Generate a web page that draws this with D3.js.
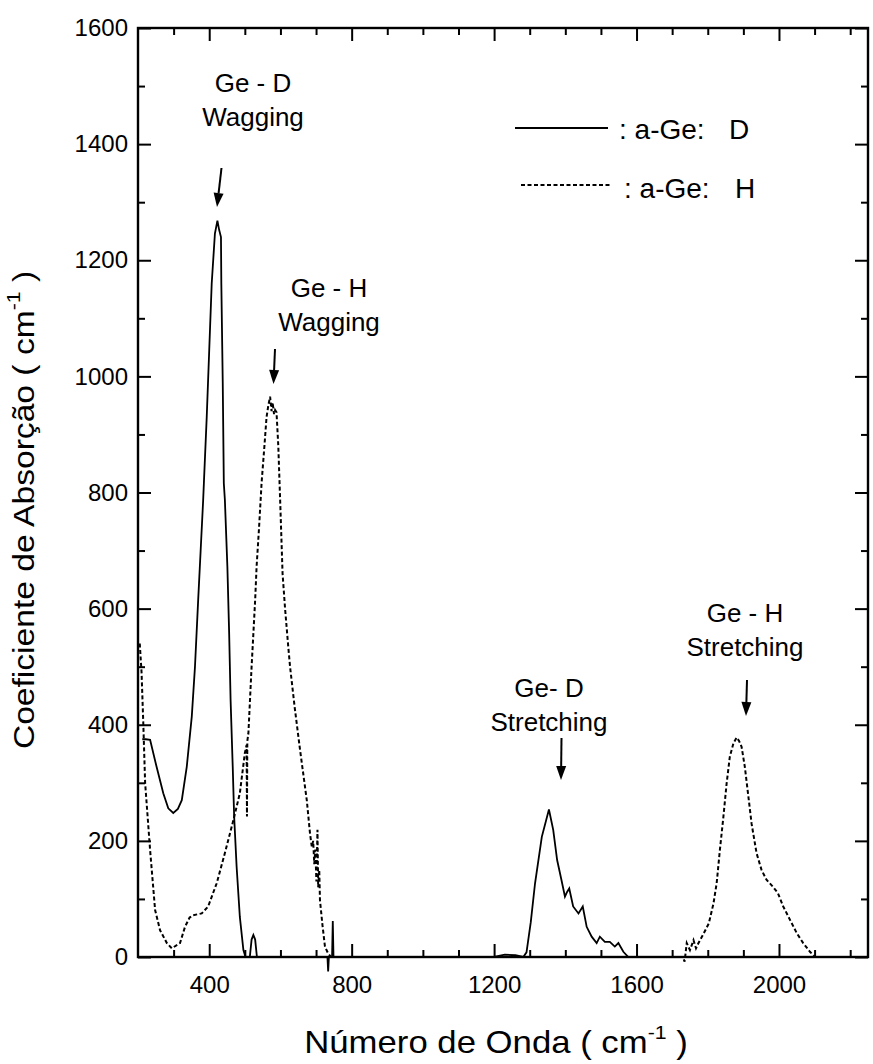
<!DOCTYPE html>
<html>
<head>
<meta charset="utf-8">
<script src="https://cdn.jsdelivr.net/npm/d3@7/dist/d3.min.js"></script>
<style>
  html, body { margin: 0; padding: 0; background: #fff; }
  svg { display: block; }
  text { font-family: "Liberation Sans", Arial, sans-serif; fill: #000; }
</style>
</head>
<body>
<svg id="chart" width="873" height="1064"></svg>
<script>
// ---- data ----
// a-Ge:D  (solid line)
const seriesD_x = [212, 222, 234, 252, 271, 285, 299, 312, 323, 337, 351, 360, 369, 376, 383, 385, 393, 400, 407, 416, 423, 428, 433, 434, 438, 441, 444, 451, 456, 460, 466, 470, 477, 486, 496, 502, 514, 519, 524, 529, 534, 732, 734, 736, 745, 747, 749, 1200, 1230, 1260, 1282, 1291, 1303, 1315, 1334, 1354, 1366, 1377, 1389, 1399, 1405, 1411, 1422, 1437, 1449, 1460, 1474, 1488, 1497, 1511, 1525, 1539, 1549, 1563, 1577, 2250];
const seriesD_y = [375, 375, 374, 328, 282, 256, 248, 255, 270, 328, 414, 500, 615, 701, 787, 816, 930, 1045, 1160, 1246, 1268, 1252, 1240, 1160, 988, 816, 787, 672, 557, 443, 328, 242, 155, 69, 12, 0, 0, 30, 38, 30, 0, 0, -25, 0, 0, 62, 0, 0, 4, 3, 0, 8, 60, 127, 207, 254, 219, 167, 133, 104, 112, 118, 87, 75, 87, 52, 35, 24, 35, 26, 26, 18, 24, 9, 0, 0];

// a-Ge:H  (dashed line)
const seriesH_x = [205, 210, 215, 220, 234, 248, 262, 281, 295, 318, 332, 345, 355, 379, 397, 421, 444, 468, 486, 500, 505, 506, 507, 510, 519, 524, 529, 533, 540, 547, 555, 561, 566, 571, 575, 578, 582, 585, 589, 594, 599, 606, 613, 622, 627, 640, 655, 674, 683, 688, 692, 695, 698, 701, 704, 706, 709, 711, 718, 725, 734, 742, 1730, 1735, 1741, 1750, 1760, 1767, 1774, 1789, 1803, 1816, 1825, 1834, 1844, 1853, 1862, 1872, 1881, 1888, 1895, 1904, 1913, 1923, 1937, 1951, 1965, 1983, 1997, 2012, 2031, 2050, 2068, 2087, 2101, 2250];
const seriesH_y = [540, 490, 400, 300, 184, 81, 46, 24, 15, 24, 52, 68, 72, 75, 87, 127, 179, 236, 282, 351, 365, 242, 372, 385, 500, 557, 615, 672, 740, 816, 880, 930, 950, 965, 940, 955, 935, 942, 938, 880, 790, 660, 600, 534, 500, 430, 357, 270, 213, 190, 200, 160, 185, 130, 219, 120, 150, 98, 55, 18, 6, 0, 0, -8, 24, 12, 29, 15, 24, 41, 58, 92, 127, 184, 242, 299, 345, 368, 378, 372, 362, 328, 282, 230, 179, 150, 133, 121, 110, 87, 64, 41, 24, 9, 0, 0];

const xMajorTicks = [400, 800, 1200, 1600, 2000];
const yMajorTicks = [0, 200, 400, 600, 800, 1000, 1200, 1400, 1600];
const xDomain = [200, 2250];
const yDomain = [0, 1600];

const legendLabels = [": a-Ge:", ": a-Ge:"];
const legendLetters = ["D", "H"];

const annotations = [
  { lines: ["Ge - D", "Wagging"] },
  { lines: ["Ge - H", "Wagging"] },
  { lines: ["Ge- D", "Stretching"] },
  { lines: ["Ge - H", "Stretching"] }
];

// ---- layout ----
const svg = d3.select("#chart");
const L = 138, R = 868, T = 28, B = 957;

const x = d3.scaleLinear().domain(xDomain).range([L, R]);
const y = d3.scaleLinear().domain(yDomain).range([B, T]);

const xMinor = d3.range(300, 2250, 100).filter(v => v % 400 !== 0);
const yMinor = d3.range(100, 1600, 200);

// frame
svg.append("rect").attr("x", L).attr("y", T).attr("width", R - L).attr("height", B - T)
  .attr("fill", "none").attr("stroke", "#000").attr("stroke-width", 2.4);

// axes with inward ticks
const fs = 24;
const bottomAxis = d3.axisBottom(x).tickValues(xMajorTicks).tickSize(-13).tickPadding(19).tickFormat(d3.format("d"));
const gB = svg.append("g").attr("transform", `translate(0,${B})`).call(bottomAxis);
const leftAxis = d3.axisLeft(y).tickValues(yMajorTicks).tickSize(-13).tickPadding(24).tickFormat(d3.format("d"));
const gL = svg.append("g").attr("transform", `translate(${L},0)`).call(leftAxis);
[gB, gL].forEach(g => {
  g.select(".domain").remove();
  g.selectAll(".tick line").attr("stroke", "#000").attr("stroke-width", 2);
  g.selectAll(".tick text").attr("font-size", fs).attr("font-family", "Liberation Sans, Arial, sans-serif").attr("fill", "#000");
});
gL.selectAll(".tick text").attr("dx", 14);

const tickStyle = g => { g.select(".domain").remove(); g.selectAll("line").attr("stroke", "#000").attr("stroke-width", 2); };
// minor ticks bottom/left
svg.append("g").attr("transform", `translate(0,${B})`)
  .call(d3.axisBottom(x).tickValues(xMinor).tickSize(-7).tickFormat("")).call(tickStyle);
svg.append("g").attr("transform", `translate(${L},0)`)
  .call(d3.axisLeft(y).tickValues(yMinor).tickSize(-7).tickFormat("")).call(tickStyle);
// top/right ticks (no labels)
svg.append("g").attr("transform", `translate(0,${T})`)
  .call(d3.axisTop(x).tickValues(xMajorTicks).tickSize(-13).tickFormat("")).call(tickStyle);
svg.append("g").attr("transform", `translate(0,${T})`)
  .call(d3.axisTop(x).tickValues(xMinor).tickSize(-7).tickFormat("")).call(tickStyle);
svg.append("g").attr("transform", `translate(${R},0)`)
  .call(d3.axisRight(y).tickValues(yMajorTicks).tickSize(-13).tickFormat("")).call(tickStyle);
svg.append("g").attr("transform", `translate(${R},0)`)
  .call(d3.axisRight(y).tickValues(yMinor).tickSize(-7).tickFormat("")).call(tickStyle);

// axis titles
const xt = svg.append("text").attr("transform", "translate(496,1053) scale(1.12,1)")
  .attr("text-anchor", "middle").attr("font-size", 31);
xt.append("tspan").text("Número de Onda ( cm");
xt.append("tspan").attr("font-size", 19).attr("dy", -14).text("-1");
xt.append("tspan").attr("dy", 14).text(" )");

const yt = svg.append("text").attr("transform", "translate(34,510) rotate(-90) scale(1.12,1)")
  .attr("text-anchor", "middle").attr("font-size", 30);
yt.append("tspan").text("Coeficiente de Absorção ( cm");
yt.append("tspan").attr("font-size", 19).attr("dy", -14).text("-1");
yt.append("tspan").attr("dy", 14).text(" )");

// series
const lineGen = d3.line().x(d => x(d[0])).y(d => y(d[1]));
const dataD = seriesD_x.map((v, i) => [v, seriesD_y[i]]);
const dataH = seriesH_x.map((v, i) => [v, seriesH_y[i]]);

svg.append("path").datum(dataH).attr("d", lineGen)
  .attr("fill", "none").attr("stroke", "#000").attr("stroke-width", 2).attr("stroke-dasharray", "4,2.5");
svg.append("path").datum(dataD).attr("d", lineGen)
  .attr("fill", "none").attr("stroke", "#000").attr("stroke-width", 1.8);

// legend
const legY = [128, 185];
svg.append("line").attr("x1", 515).attr("x2", 608).attr("y1", legY[0]).attr("y2", legY[0])
  .attr("stroke", "#000").attr("stroke-width", 1.8);
svg.append("line").attr("x1", 521).attr("x2", 610).attr("y1", legY[1]).attr("y2", legY[1])
  .attr("stroke", "#000").attr("stroke-width", 1.8).attr("stroke-dasharray", "4,2.5");
const legTextX = [619, 624], legLetterX = [729, 735], legBase = [139, 198];
legendLabels.forEach((lab, i) => {
  const t = svg.append("text").attr("x", legTextX[i]).attr("y", legBase[i]).attr("font-size", 28);
  t.append("tspan").text(lab);
  t.append("tspan").attr("x", legLetterX[i]).text(legendLetters[i]);
});

// annotations with arrows
const annLayout = [
  { cx: 253, y1: 92, ax1: 221.5, ay1: 168, ax2: 217, ay2: 207 },
  { cx: 329, y1: 297, ax1: 275, ay1: 349, ax2: 273.5, ay2: 384 },
  { cx: 549, y1: 697, ax1: 561.5, ay1: 738, ax2: 561, ay2: 780 },
  { cx: 745, y1: 622, ax1: 747, ay1: 680, ax2: 746, ay2: 716 }
];
annotations.forEach((a, i) => {
  const p = annLayout[i];
  a.lines.forEach((ln, j) => {
    svg.append("text").attr("x", p.cx).attr("y", p.y1 + j * 34).attr("text-anchor", "middle")
      .attr("font-size", 26).text(ln);
  });
  const ang = Math.atan2(p.ay2 - p.ay1, p.ax2 - p.ax1);
  const hl = 14, hw = 5;
  const bx = p.ax2 - hl * Math.cos(ang), by = p.ay2 - hl * Math.sin(ang);
  svg.append("line").attr("x1", p.ax1).attr("y1", p.ay1).attr("x2", bx).attr("y2", by)
    .attr("stroke", "#000").attr("stroke-width", 2);
  const px = -Math.sin(ang), py = Math.cos(ang);
  svg.append("path")
    .attr("d", `M${p.ax2},${p.ay2} L${bx + px * hw},${by + py * hw} L${bx - px * hw},${by - py * hw} Z`)
    .attr("fill", "#000");
});
</script>
</body>
</html>
